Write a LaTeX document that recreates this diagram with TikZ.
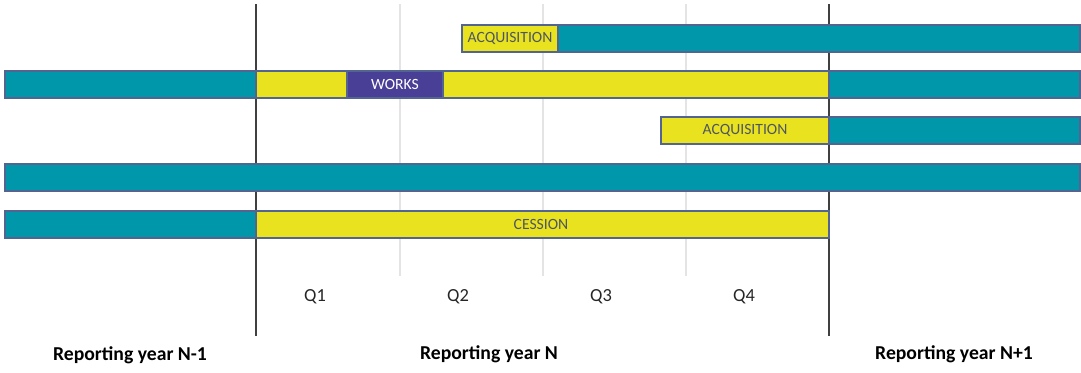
\documentclass[tikz,border=0pt]{standalone}
\usepackage{fontspec}
\setmainfont{Carlito}
\usetikzlibrary{positioning}

\definecolor{barteal}{HTML}{0097AB}
\definecolor{baryellow}{HTML}{E9E31F}
\definecolor{barpurple}{HTML}{4A3F97}
\definecolor{barline}{HTML}{52648F}
\definecolor{gridgray}{HTML}{E4E4E4}
\definecolor{labelgray}{HTML}{4F5663}

\begin{document}
\begin{tikzpicture}[x=0.02cm, y=-0.02cm,
      seg/.style={draw=barline, line width=0.6pt},
      teal seg/.style={seg, fill=barteal},
      yellow seg/.style={seg, fill=baryellow},
      purple seg/.style={seg, fill=barpurple},
      tag/.style={font=\fontsize{8.9}{10}\selectfont, text=labelgray},
      qtr/.style={font=\fontsize{10.5}{12}\selectfont, text=black!85},
      year/.style={font=\fontsize{11.2}{13}\selectfont\bfseries},
      grid/.style={draw=gridgray, line width=0.8pt},
      border/.style={draw=black!75, line width=0.8pt}]

    \useasboundingbox (0,0) rectangle (1081,372);

    \def\rh{27}  % bar height

    % quarter and year separators (behind the bars)
    \foreach \x in {400,543,686}
      \draw[grid] (\x,4) -- (\x,276);
    \coordinate (ya top) at (256,4);
    \coordinate (ya bot) at (256,336);
    \coordinate (yb top) at (829,4);
    \coordinate (yb bot) at (829,336);
    \draw[border] (ya top) -- (ya bot);
    \draw[border] (yb top) -- (yb bot);

    % row 1: acquisition during Q2
    \draw[teal seg]   (558,25) rectangle (1080,25+\rh);
    \draw[yellow seg] (462,25) rectangle (558,25+\rh);
    \node[tag] (acq1) at (510,25+\rh/2) {ACQUISITION};

    % row 2: works
    \draw[teal seg]   (5,71) rectangle (256,71+\rh);
    \draw[yellow seg] (256,71) rectangle (829,71+\rh);
    \draw[teal seg]   (829,71) rectangle (1080,71+\rh);
    \draw[purple seg] (347,71) rectangle (443,71+\rh);
    \node[tag, text=white] (works) at (395,71+\rh/2) {WORKS};

    % row 3: acquisition during Q4
    \draw[yellow seg] (661,117) rectangle (829,117+\rh);
    \draw[teal seg]   (829,117) rectangle (1080,117+\rh);
    \node[tag] (acq2) at (745,117+\rh/2) {ACQUISITION};

    % row 4: held the whole time
    \draw[teal seg]   (5,164) rectangle (1080,164+\rh);

    % row 5: cession
    \draw[teal seg]   (5,211) rectangle (256,211+\rh);
    \draw[yellow seg] (256,211) rectangle (829,211+\rh);
    \node[tag] (cess) at (541,211+\rh/2) {CESSION};

    % quarters
    \node[qtr] (q1) at (315,297) {Q1};
    \node[qtr] (q2) at (458,297) {Q2};
    \node[qtr] (q3) at (601,297) {Q3};
    \node[qtr] (q4) at (744,297) {Q4};

    % reporting years
    \node[year] (prev) at (130,355) {Reporting year N-1};
    \node[year] (cur)  at (489,354) {Reporting year N};
    \node[year] (next) at (954,354) {Reporting year N+1};

\end{tikzpicture}
\end{document}
